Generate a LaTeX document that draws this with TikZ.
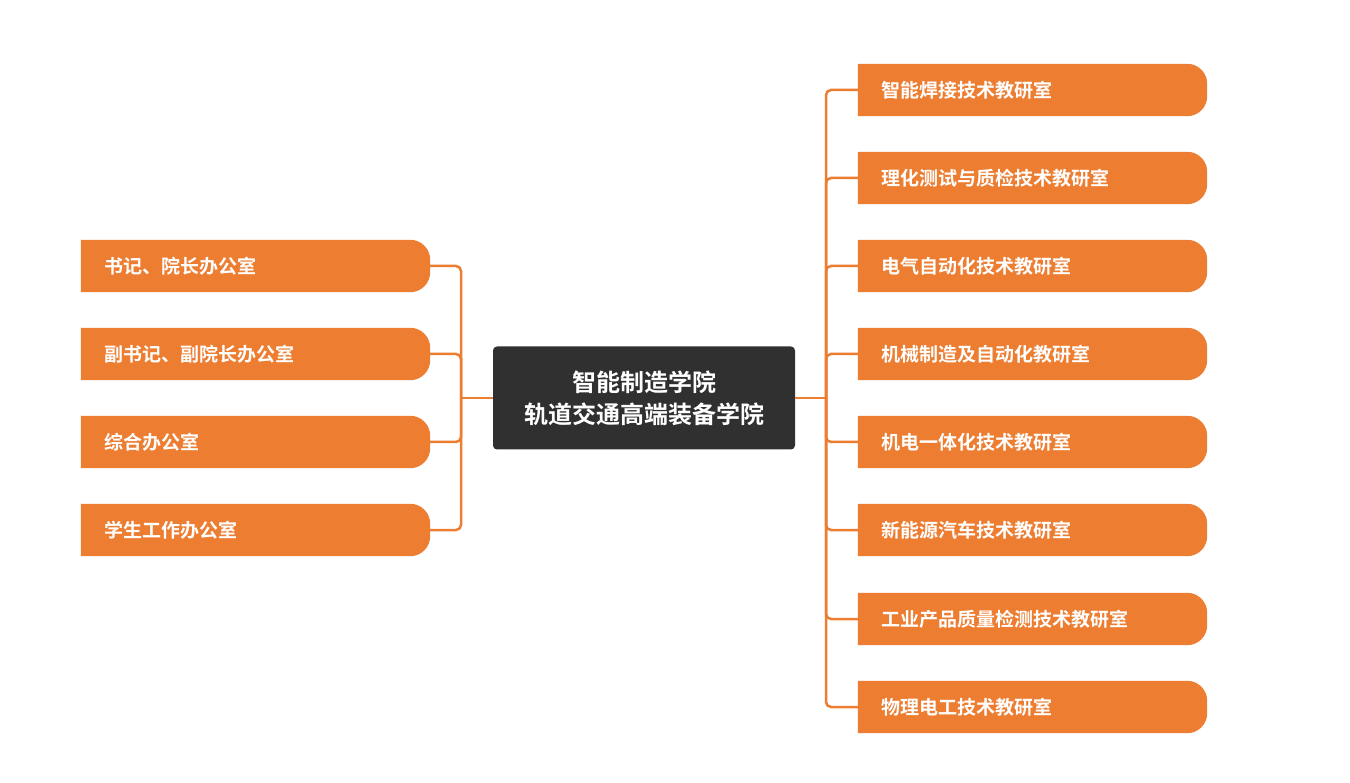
\documentclass[tikz,border=0pt]{standalone}
\usepackage{fontspec}
\setmainfont{Noto Sans CJK SC Bold}
\usetikzlibrary{backgrounds}
\definecolor{branch}{HTML}{ED7D31}
\definecolor{hubgray}{HTML}{303030}
\tikzset{
  leaf/.style={minimum width=349pt, minimum height=52pt, text width=303pt, inner sep=0pt,
    align=left, text=white, font=\fontsize{19}{22}\selectfont},
  hubnode/.style={minimum width=302pt, minimum height=103pt, fill=hubgray, rounded corners=4pt,
    align=center, text=white, font=\fontsize{24}{32}\selectfont},
  conn/.style={draw=branch, line width=2.5pt, rounded corners=5pt},
}
\newcommand{\leafshape}[1]{%
  \fill[branch] (#1.north west) -- ([xshift=-20pt]#1.north east)
    arc[start angle=90,end angle=0,radius=20pt] -- ([yshift=20pt]#1.south east)
    arc[start angle=0,end angle=-90,radius=20pt] -- (#1.south west) -- cycle;}
\begin{document}
\begin{tikzpicture}[x=1pt,y=-1pt]
  \useasboundingbox (0,0) rectangle (1350,783);

  \node[hubnode] (hub) at (644,398) {智能制造学院\\轨道交通高端装备学院};
  \coordinate (lj) at (461,398);
  \coordinate (rj) at (826,398);

  % left side
  \foreach \i/\y/\t in {1/266/书记、院长办公室, 2/354/副书记、副院长办公室,
                        3/442/综合办公室, 4/530/学生工作办公室} {
    \node[leaf] (l\i) at (255.5,\y) {\t};
    \begin{scope}[on background layer]
      \leafshape{l\i}
    \end{scope}
    \draw[conn] (l\i.east) -| (lj);
  }

  % right side
  \foreach \i/\y/\t in {1/90/智能焊接技术教研室, 2/178/理化测试与质检技术教研室,
                        3/266/电气自动化技术教研室, 4/354/机械制造及自动化教研室,
                        5/442/机电一体化技术教研室, 6/530/新能源汽车技术教研室,
                        7/619/工业产品质量检测技术教研室, 8/707/物理电工技术教研室} {
    \node[leaf] (r\i) at (1032.5,\y) {\t};
    \begin{scope}[on background layer]
      \leafshape{r\i}
    \end{scope}
    \draw[conn] (r\i.west) -| (rj);
  }

  \draw[conn] (hub.west) -- (lj);
  \draw[conn] (hub.east) -- (rj);
\end{tikzpicture}
\end{document}
